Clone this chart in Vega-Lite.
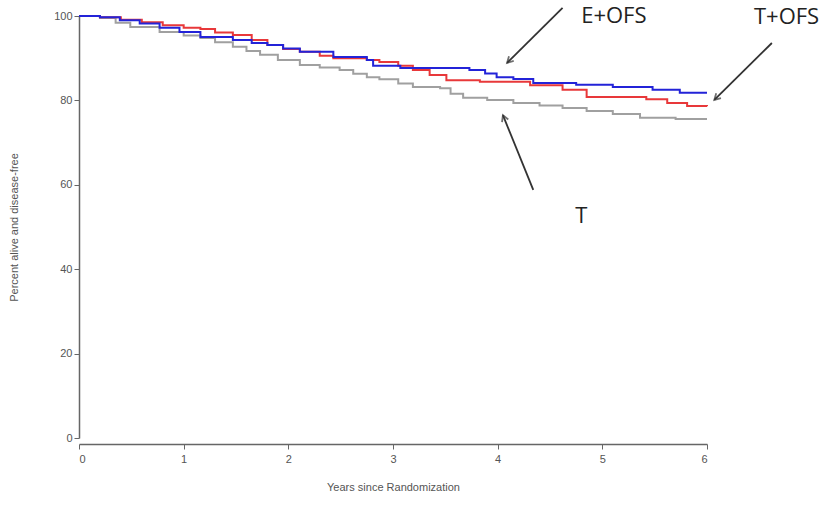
{
  "$schema": "https://vega.github.io/schema/vega-lite/v6.json",
  "width": 628,
  "height": 422,
  "autosize": {"type": "none"},
  "padding": {"left": 79, "top": 16, "right": 127, "bottom": 73},
  "background": "white",
  "config": {
    "view": {"stroke": null},
    "axis": {"grid": false, "domainColor": "#666", "tickColor": "#666", "labelColor": "#555", "titleColor": "#555", "labelFont": "Liberation Sans", "titleFont": "Liberation Sans", "labelFontSize": 11, "titleFontSize": 11, "titleFontWeight": "normal", "domainWidth": 1.5, "tickSize": 5}
  },
  "datasets": {
    "km": [
      {"arm": "T", "t": 0, "pct": 100},
      {"arm": "T", "t": 0.2, "pct": 99.5},
      {"arm": "T", "t": 0.35, "pct": 98.4},
      {"arm": "T", "t": 0.49, "pct": 97.4},
      {"arm": "T", "t": 0.77, "pct": 96.2},
      {"arm": "T", "t": 1.0, "pct": 95.4},
      {"arm": "T", "t": 1.16, "pct": 94.8},
      {"arm": "T", "t": 1.3, "pct": 93.8},
      {"arm": "T", "t": 1.47, "pct": 92.7},
      {"arm": "T", "t": 1.6, "pct": 91.7},
      {"arm": "T", "t": 1.73, "pct": 90.8},
      {"arm": "T", "t": 1.9, "pct": 89.6},
      {"arm": "T", "t": 2.11, "pct": 88.4},
      {"arm": "T", "t": 2.3, "pct": 87.8},
      {"arm": "T", "t": 2.49, "pct": 87.2},
      {"arm": "T", "t": 2.62, "pct": 86.3},
      {"arm": "T", "t": 2.75, "pct": 85.5},
      {"arm": "T", "t": 2.87, "pct": 85.0},
      {"arm": "T", "t": 3.05, "pct": 84.0},
      {"arm": "T", "t": 3.19, "pct": 83.2},
      {"arm": "T", "t": 3.45, "pct": 82.9},
      {"arm": "T", "t": 3.55, "pct": 81.6},
      {"arm": "T", "t": 3.67, "pct": 80.6},
      {"arm": "T", "t": 3.9, "pct": 80.1},
      {"arm": "T", "t": 4.15, "pct": 79.4},
      {"arm": "T", "t": 4.4, "pct": 78.8},
      {"arm": "T", "t": 4.62, "pct": 78.2},
      {"arm": "T", "t": 4.85, "pct": 77.5},
      {"arm": "T", "t": 5.1, "pct": 76.8},
      {"arm": "T", "t": 5.36, "pct": 75.9},
      {"arm": "T", "t": 5.7, "pct": 75.6},
      {"arm": "T", "t": 6.0, "pct": 75.6},
      {"arm": "T+OFS", "t": 0, "pct": 100},
      {"arm": "T+OFS", "t": 0.2, "pct": 99.7},
      {"arm": "T+OFS", "t": 0.4, "pct": 99.1},
      {"arm": "T+OFS", "t": 0.6, "pct": 98.5},
      {"arm": "T+OFS", "t": 0.8, "pct": 97.8},
      {"arm": "T+OFS", "t": 1.0, "pct": 97.2},
      {"arm": "T+OFS", "t": 1.16, "pct": 96.9},
      {"arm": "T+OFS", "t": 1.3, "pct": 96.1},
      {"arm": "T+OFS", "t": 1.47, "pct": 95.5},
      {"arm": "T+OFS", "t": 1.65, "pct": 94.3},
      {"arm": "T+OFS", "t": 1.8, "pct": 93.1},
      {"arm": "T+OFS", "t": 1.95, "pct": 92.2},
      {"arm": "T+OFS", "t": 2.11, "pct": 91.5},
      {"arm": "T+OFS", "t": 2.3, "pct": 90.6},
      {"arm": "T+OFS", "t": 2.43, "pct": 90.0},
      {"arm": "T+OFS", "t": 2.75, "pct": 89.6},
      {"arm": "T+OFS", "t": 2.87, "pct": 89.1},
      {"arm": "T+OFS", "t": 3.05, "pct": 88.2},
      {"arm": "T+OFS", "t": 3.19, "pct": 87.2},
      {"arm": "T+OFS", "t": 3.35, "pct": 86.0},
      {"arm": "T+OFS", "t": 3.51, "pct": 84.8},
      {"arm": "T+OFS", "t": 3.83, "pct": 84.4},
      {"arm": "T+OFS", "t": 4.31, "pct": 83.6},
      {"arm": "T+OFS", "t": 4.62, "pct": 82.5},
      {"arm": "T+OFS", "t": 4.85, "pct": 80.8},
      {"arm": "T+OFS", "t": 5.42, "pct": 80.3},
      {"arm": "T+OFS", "t": 5.62, "pct": 79.4},
      {"arm": "T+OFS", "t": 5.81, "pct": 78.7},
      {"arm": "T+OFS", "t": 6.0, "pct": 78.6},
      {"arm": "E+OFS", "t": 0, "pct": 100},
      {"arm": "E+OFS", "t": 0.2, "pct": 99.7},
      {"arm": "E+OFS", "t": 0.39, "pct": 99.0},
      {"arm": "E+OFS", "t": 0.58, "pct": 98.2},
      {"arm": "E+OFS", "t": 0.77, "pct": 97.2},
      {"arm": "E+OFS", "t": 0.96, "pct": 96.2},
      {"arm": "E+OFS", "t": 1.16, "pct": 95.0},
      {"arm": "E+OFS", "t": 1.47, "pct": 94.3},
      {"arm": "E+OFS", "t": 1.65, "pct": 93.6},
      {"arm": "E+OFS", "t": 1.8, "pct": 93.1},
      {"arm": "E+OFS", "t": 1.95, "pct": 92.3},
      {"arm": "E+OFS", "t": 2.11, "pct": 91.5},
      {"arm": "E+OFS", "t": 2.43, "pct": 90.3},
      {"arm": "E+OFS", "t": 2.75, "pct": 89.6},
      {"arm": "E+OFS", "t": 2.81, "pct": 88.2},
      {"arm": "E+OFS", "t": 3.07, "pct": 87.7},
      {"arm": "E+OFS", "t": 3.73, "pct": 87.2},
      {"arm": "E+OFS", "t": 3.88, "pct": 86.4},
      {"arm": "E+OFS", "t": 3.99, "pct": 85.5},
      {"arm": "E+OFS", "t": 4.15, "pct": 85.1},
      {"arm": "E+OFS", "t": 4.34, "pct": 84.1},
      {"arm": "E+OFS", "t": 4.75, "pct": 83.7},
      {"arm": "E+OFS", "t": 5.1, "pct": 83.2},
      {"arm": "E+OFS", "t": 5.48, "pct": 82.5},
      {"arm": "E+OFS", "t": 5.74, "pct": 81.8},
      {"arm": "E+OFS", "t": 6.0, "pct": 81.8}
    ],
    "arrows": [
      {"label": "E+OFS", "dir": "down-left", "t1": 4.62, "v1": 101.9, "t2": 4.09, "v2": 88.9},
      {"label": "T+OFS", "dir": "down-left", "t1": 6.62, "v1": 93.6, "t2": 6.07, "v2": 80.1},
      {"label": "T", "dir": "up-left", "t1": 4.34, "v1": 58.8, "t2": 4.05, "v2": 76.5}
    ],
    "labels": [
      {"label": "E+OFS", "t": 5.11, "v": 99.9},
      {"label": "T+OFS", "t": 6.76, "v": 99.8},
      {"label": "T", "t": 4.8, "v": 52.6}
    ]
  },
  "layer": [
    {
      "data": {"name": "km"},
      "mark": {"type": "line", "interpolate": "step-after", "strokeWidth": 2},
      "encoding": {
        "x": {"field": "t", "type": "quantitative", "scale": {"domain": [0, 6], "nice": false},
          "axis": {"values": [0, 1, 2, 3, 4, 5, 6], "format": "d", "title": "Years since Randomization", "offset": 6, "labelPadding": 4, "titleY": 43, "titleBaseline": "middle"}},
        "y": {"field": "pct", "type": "quantitative", "scale": {"domain": [0, 100], "nice": false},
          "axis": {"values": [0, 20, 40, 60, 80, 100], "title": "Percent alive and disease-free", "titleX": -65, "titleY": 211, "titleAngle": 270, "titleAlign": "center", "titleBaseline": "middle"}},
        "color": {"field": "arm", "type": "nominal", "scale": {"domain": ["T", "T+OFS", "E+OFS"], "range": ["#a0a0a0", "#e8383a", "#2323d8"]}, "legend": null},
        "order": {"field": "t"}
      }
    },
    {
      "data": {"name": "arrows"},
      "mark": {"type": "rule", "color": "#333", "strokeWidth": 1.8},
      "encoding": {
        "x": {"field": "t1", "type": "quantitative"},
        "y": {"field": "v1", "type": "quantitative"},
        "x2": {"field": "t2"},
        "y2": {"field": "v2"}
      }
    },
    {
      "data": {"name": "arrows"},
      "transform": [{"filter": "datum.dir === 'down-left'"}],
      "mark": {"type": "point", "shape": "M -0.5 0.9 L 0 0 L 0.5 0.9", "filled": false, "stroke": "#333", "strokeWidth": 1.8, "size": 180, "angle": 225},
      "encoding": {
        "x": {"field": "t2", "type": "quantitative"},
        "y": {"field": "v2", "type": "quantitative"}
      }
    },
    {
      "data": {"name": "arrows"},
      "transform": [{"filter": "datum.dir === 'up-left'"}],
      "mark": {"type": "point", "shape": "M -0.5 0.9 L 0 0 L 0.5 0.9", "filled": false, "stroke": "#333", "strokeWidth": 1.8, "size": 180, "angle": 338},
      "encoding": {
        "x": {"field": "t2", "type": "quantitative"},
        "y": {"field": "v2", "type": "quantitative"}
      }
    },
    {
      "data": {"name": "labels"},
      "mark": {"type": "text", "font": "Open Sans", "fontSize": 22, "color": "#222", "align": "center", "baseline": "middle"},
      "encoding": {
        "x": {"field": "t", "type": "quantitative"},
        "y": {"field": "v", "type": "quantitative"},
        "text": {"field": "label"}
      }
    }
  ]
}
